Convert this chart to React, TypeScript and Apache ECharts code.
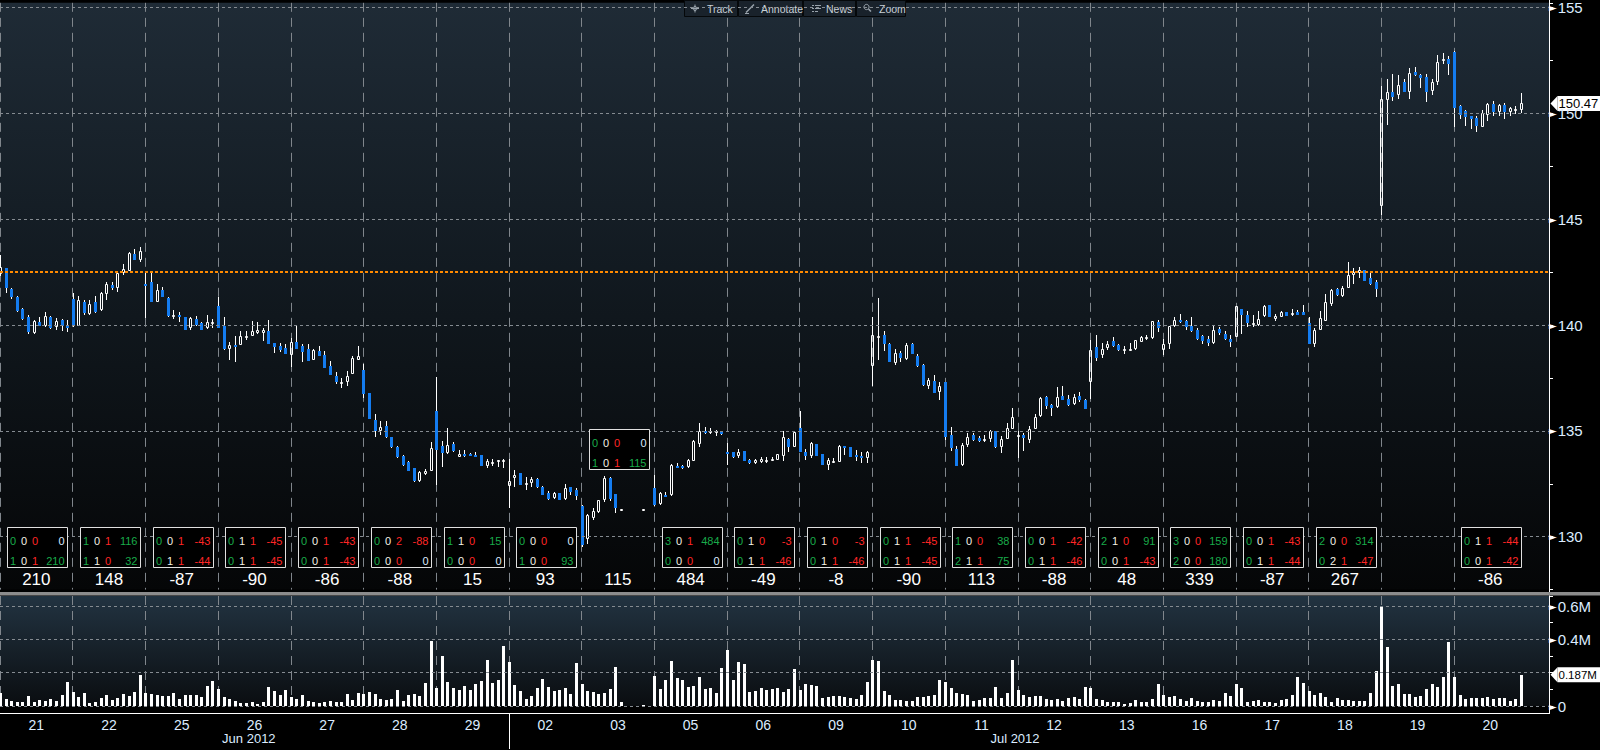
import React, { useEffect, useRef } from "react";
import * as echarts from "echarts";

// ---------------- data ----------------
const dayLabels = ["21", "22", "25", "26", "27", "28", "29", "02", "03", "05", "06", "09", "10", "11", "12", "13", "16", "17", "18", "19", "20"];
const monthLabels = ["Jun 2012", "Jul 2012"];
const monthStartDay = [0, 7];
const BARS_PER_DAY = 13;
const EMPTY_SLOTS_AT_END = 5;

type Bar = [number, number, number, number] | null; // open, high, low, close

const jun21: Bar[] = [
  [142.4, 143.3, 142.3, 142.75], [142.68, 142.7, 141.5, 141.74], [141.69, 141.74, 141.22, 141.32], [141.3, 141.35, 140.6, 140.64],
  [140.77, 140.8, 140.25, 140.3], [140.36, 140.49, 139.58, 139.66], [139.63, 140.22, 139.58, 140.17], [140.13, 140.36, 139.94, 139.94],
  [139.94, 140.6, 139.9, 140.41], [140.36, 140.41, 139.81, 139.86], [139.89, 140.33, 139.77, 140.2], [140.25, 140.3, 139.7, 139.94],
  [139.94, 140.25, 139.66, 139.86],
];
const jun22: Bar[] = [
  [141.24, 141.49, 139.9, 139.97], [139.97, 141.38, 139.94, 141.19], [141.11, 141.19, 140.49, 140.57], [140.52, 141.19, 140.46, 141.0],
  [141.11, 141.35, 140.57, 140.6], [140.7, 141.54, 140.68, 141.49], [141.46, 142.01, 141.18, 141.93], [141.88, 142.01, 141.65, 141.74],
  [141.74, 142.56, 141.58, 142.48], [142.45, 142.9, 142.37, 142.65], [142.57, 143.46, 142.57, 143.42], [143.37, 143.59, 143.09, 143.09],
  [143.09, 143.7, 142.96, 143.5],
];
const jun25: Bar[] = [
  [141.95, 142.45, 140.33, 141.93], [142.01, 142.45, 141.11, 141.11], [141.11, 141.96, 141.07, 141.66], [141.66, 141.8, 141.32, 141.32],
  [141.27, 141.3, 140.36, 140.41], [140.44, 140.72, 140.28, 140.46], [140.46, 140.6, 140.12, 140.36], [140.36, 140.36, 139.75, 139.78],
  [139.86, 140.38, 139.75, 140.33], [140.3, 140.41, 139.94, 139.99], [140.08, 140.12, 139.75, 139.77], [139.86, 140.46, 139.83, 140.12],
  [140.12, 140.3, 139.86, 140.13],
];
const jun26: Bar[] = [
  [140.88, 141.3, 139.86, 139.86], [139.94, 140.36, 138.83, 138.89], [138.87, 139.18, 138.34, 139.04], [139.05, 139.47, 138.25, 139.02],
  [139.04, 139.7, 139.04, 139.47], [139.48, 139.7, 139.28, 139.5], [139.47, 140.2, 139.47, 139.7], [139.63, 140.12, 139.58, 139.78],
  [139.63, 139.86, 139.23, 139.75], [139.73, 140.25, 139.1, 139.1], [139.15, 139.15, 138.68, 138.95], [139.03, 139.15, 138.73, 138.84],
  [138.92, 139.08, 138.64, 138.64],
];
const jun27: Bar[] = [
  [138.58, 139.39, 138.01, 139.19], [139.19, 140.02, 138.87, 138.87], [139.03, 139.12, 138.25, 138.73], [138.87, 139.08, 138.29, 138.29],
  [138.37, 138.89, 138.33, 138.81], [138.76, 139.0, 138.53, 138.53], [138.58, 138.76, 137.98, 137.98], [138.06, 138.29, 137.64, 137.64],
  [137.59, 137.78, 137.19, 137.32], [137.32, 137.51, 137.04, 137.33], [137.32, 137.82, 137.12, 137.59], [137.7, 138.53, 137.7, 138.45],
  [138.37, 139.0, 138.37, 138.53],
];
const jun28: Bar[] = [
  [137.86, 138.14, 136.57, 136.76], [136.79, 136.79, 135.58, 135.58], [135.52, 135.78, 134.69, 135.0], [135.0, 135.47, 134.8, 135.19],
  [135.24, 135.47, 134.64, 134.72], [134.72, 134.72, 134.19, 134.22], [134.25, 134.3, 133.7, 133.78], [133.83, 133.87, 133.36, 133.4],
  [133.51, 133.59, 133.09, 133.12], [133.23, 133.25, 132.6, 132.62], [132.62, 133.1, 132.6, 133.04], [132.96, 133.2, 132.93, 133.12],
  [133.09, 134.45, 133.09, 134.19],
];
const jun29: Bar[] = [
  [135.94, 137.54, 132.46, 134.11], [134.3, 134.53, 133.28, 133.94], [133.97, 135.13, 133.9, 134.34], [134.38, 134.45, 133.98, 134.03],
  [133.78, 134.09, 133.75, 133.9], [133.9, 134.09, 133.75, 133.8], [133.9, 133.94, 133.8, 133.83], [133.87, 134.02, 133.8, 133.8],
  [133.86, 133.87, 133.34, 133.36], [133.36, 133.67, 133.25, 133.56], [133.53, 133.67, 133.36, 133.55], [133.58, 133.62, 133.31, 133.6],
  [133.51, 133.65, 133.25, 133.62],
];
const jul02: Bar[] = [
  [132.39, 133.67, 131.35, 132.65], [132.78, 133.15, 132.37, 132.93], [133.0, 133.02, 132.43, 132.45], [132.46, 132.84, 132.21, 132.53],
  [132.53, 132.84, 132.34, 132.73], [132.73, 132.76, 132.3, 132.34], [132.37, 132.4, 131.96, 131.99], [132.06, 132.18, 131.74, 131.76],
  [131.82, 132.1, 131.77, 132.06], [132.06, 132.08, 131.72, 131.74], [131.76, 132.49, 131.71, 132.31], [132.34, 132.34, 131.99, 132.13],
  [132.21, 132.31, 131.74, 131.9],
];
const jul03: Bar[] = [
  [131.44, 131.5, 129.5, 129.6], [129.88, 131.08, 129.67, 131.01], [130.9, 131.35, 130.8, 131.19], [131.16, 131.75, 131.12, 131.71],
  [131.71, 132.85, 131.65, 132.78], [132.76, 132.8, 131.7, 131.76], [132.03, 132.03, 131.12, 131.35], [131.33, 131.33, 131.33, 131.33],
  null, null, null, [131.33, 131.33, 131.33, 131.33], null,
];
const jul05: Bar[] = [
  [132.29, 132.93, 131.44, 131.48], [131.54, 132.13, 131.52, 132.06], [131.99, 132.1, 131.92, 131.92], [131.96, 133.45, 131.94, 133.4],
  [133.34, 133.47, 133.26, 133.28], [133.34, 133.4, 133.22, 133.23], [133.28, 133.67, 133.25, 133.64], [133.59, 134.56, 133.56, 134.53],
  [134.38, 135.38, 134.22, 135.0], [135.0, 135.16, 134.85, 134.92], [134.96, 135.13, 134.85, 134.98], [134.97, 135.03, 134.74, 134.98],
  [134.94, 135.0, 134.81, 134.85],
];
const jul06: Bar[] = [
  [134.02, 134.44, 133.4, 133.94], [133.98, 134.0, 133.72, 133.75], [133.8, 134.14, 133.72, 133.98], [134.03, 134.06, 133.59, 133.59],
  [133.64, 133.65, 133.45, 133.47], [133.47, 133.65, 133.43, 133.62], [133.54, 133.75, 133.5, 133.67], [133.6, 133.78, 133.47, 133.62],
  [133.65, 133.75, 133.56, 133.67], [133.62, 133.92, 133.6, 133.9], [133.83, 135.0, 133.56, 134.69], [134.61, 134.65, 134.01, 134.22],
  [134.25, 135.0, 134.22, 134.96],
];
const jul09: Bar[] = [
  [135.13, 135.94, 133.98, 133.98], [134.02, 134.14, 133.64, 133.83], [133.83, 134.49, 133.7, 134.42], [134.38, 134.4, 133.8, 133.83],
  [133.9, 133.92, 133.38, 133.4], [133.39, 133.72, 133.17, 133.64], [133.55, 133.72, 133.47, 133.56], [133.55, 134.33, 133.53, 134.3],
  [134.3, 134.3, 133.87, 134.22], [134.25, 134.25, 133.75, 133.78], [133.84, 134.11, 133.56, 133.82], [133.83, 133.98, 133.47, 133.7],
  [133.7, 134.06, 133.47, 134.02],
];
const jul10: Bar[] = [
  [138.06, 140.36, 137.12, 139.55], [139.45, 141.27, 138.37, 139.48], [139.52, 139.73, 138.76, 139.11], [139.11, 139.14, 138.23, 138.26],
  [138.22, 138.89, 138.11, 138.69], [138.69, 138.77, 138.26, 138.42], [138.4, 139.16, 138.37, 139.05], [139.08, 139.16, 138.61, 138.64],
  [138.53, 138.61, 138.01, 138.06], [138.1, 138.14, 137.14, 137.17], [137.12, 137.48, 136.96, 137.39], [137.35, 137.64, 136.8, 136.8],
  [136.85, 137.32, 136.44, 137.1],
];
const jul11: Bar[] = [
  [137.31, 137.31, 134.58, 134.69], [134.82, 135.16, 134.06, 134.19], [134.14, 134.3, 133.36, 133.36], [133.39, 134.41, 133.36, 134.34],
  [134.34, 134.92, 134.25, 134.72], [134.81, 134.92, 134.53, 134.58], [134.64, 134.77, 134.45, 134.53], [134.6, 134.8, 134.45, 134.63],
  [134.61, 135.03, 134.45, 135.0], [135.0, 135.0, 134.2, 134.25], [134.25, 134.77, 133.94, 134.61], [134.63, 135.35, 134.61, 135.13],
  [135.11, 136.07, 135.08, 135.66],
];
const jul12: Bar[] = [
  [134.69, 135.0, 133.7, 134.81], [134.81, 134.88, 134.06, 134.64], [134.58, 135.24, 134.41, 135.08], [135.11, 135.79, 135.08, 135.66],
  [135.68, 136.6, 135.66, 136.57], [136.6, 136.65, 136.02, 136.17], [136.23, 136.26, 135.71, 136.1], [136.13, 137.07, 136.07, 136.6],
  [136.65, 137.12, 136.46, 136.46], [136.52, 136.7, 136.18, 136.23], [136.26, 136.76, 136.23, 136.6], [136.65, 136.85, 136.38, 136.46],
  [136.45, 136.5, 136.02, 136.05],
];
const jul13: Bar[] = [
  [137.32, 139.31, 136.49, 138.8], [138.95, 139.52, 138.32, 138.45], [138.56, 139.16, 138.42, 138.89], [138.92, 139.23, 138.84, 139.08],
  [139.23, 139.42, 138.95, 139.0], [139.05, 139.08, 138.79, 138.81], [138.86, 139.0, 138.61, 138.88], [138.83, 139.16, 138.77, 138.86],
  [138.87, 139.3, 138.84, 139.27], [139.2, 139.47, 139.19, 139.42], [139.43, 139.55, 139.31, 139.45], [139.39, 140.2, 139.36, 140.17],
  [140.14, 140.25, 139.66, 139.86],
];
const jul16: Bar[] = [
  [138.81, 139.36, 138.57, 139.08], [139.11, 139.94, 138.89, 139.94], [139.94, 140.36, 139.91, 140.22], [140.25, 140.53, 140.1, 140.13],
  [140.17, 140.25, 139.75, 139.89], [139.94, 140.36, 139.67, 139.7], [139.75, 139.86, 139.31, 139.36], [139.47, 139.55, 139.11, 139.23],
  [139.34, 139.47, 138.99, 139.15], [139.15, 139.94, 139.12, 139.78], [139.83, 139.89, 139.55, 139.62], [139.59, 139.7, 139.31, 139.36],
  [139.36, 139.52, 138.95, 139.2],
];
const jul17: Bar[] = [
  [139.45, 140.91, 139.42, 140.91], [140.77, 140.77, 139.58, 140.49], [140.46, 140.67, 139.89, 140.1], [140.02, 140.49, 139.89, 140.1],
  [139.99, 140.64, 139.94, 140.3], [140.41, 140.96, 140.38, 140.88], [140.93, 140.96, 140.38, 140.38], [140.28, 140.52, 140.17, 140.41],
  [140.38, 140.67, 140.36, 140.6], [140.6, 140.6, 140.41, 140.41], [140.53, 140.77, 140.41, 140.55], [140.6, 140.72, 140.46, 140.49],
  [140.6, 140.93, 140.46, 140.46],
];
const jul18: Bar[] = [
  [140.1, 140.36, 139.08, 139.08], [139.11, 139.86, 138.95, 139.75], [139.75, 140.64, 139.75, 140.33], [140.21, 141.48, 140.21, 141.07],
  [140.99, 141.71, 140.88, 141.66], [141.69, 141.77, 141.38, 141.43], [141.35, 141.82, 141.3, 141.77], [141.77, 142.99, 141.77, 142.37],
  [142.37, 142.71, 141.93, 142.52], [142.48, 142.76, 142.24, 142.6], [142.6, 142.6, 142.06, 142.09], [142.24, 142.44, 141.9, 141.95],
  [142.05, 142.13, 141.3, 141.71],
];
const jul19: Bar[] = [
  [145.61, 151.3, 145.19, 150.67], [150.64, 151.61, 149.45, 151.02], [151.02, 151.88, 150.56, 150.75], [150.88, 151.82, 150.67, 151.35],
  [151.49, 151.64, 150.99, 151.03], [151.02, 152.12, 150.67, 151.9], [151.96, 152.19, 151.77, 151.8], [151.8, 151.88, 151.22, 151.69],
  [151.72, 151.88, 150.52, 151.03], [151.07, 151.64, 150.86, 151.49], [151.46, 152.76, 151.33, 152.43], [152.45, 152.87, 152.32, 152.55],
  [152.58, 152.71, 151.8, 152.32],
];
const jul20: Bar[] = [
  [152.9, 152.95, 149.34, 150.23], [150.36, 150.39, 149.73, 149.92], [150.09, 150.17, 149.39, 149.81], [149.86, 149.86, 149.26, 149.73],
  [149.76, 149.86, 149.11, 149.42], [149.37, 150.17, 149.34, 150.0], [149.94, 150.49, 149.64, 150.44], [150.44, 150.57, 149.86, 150.05],
  [150.08, 150.44, 149.89, 150.41], [150.39, 150.47, 149.73, 150.05], [150.08, 150.28, 149.86, 150.25], [150.17, 150.33, 149.97, 150.2],
  [150.16, 150.94, 150.0, 150.47],
];
const dailyBars: Bar[][] = [jun21, jun22, jun25, jun26, jun27, jun28, jun29, jul02, jul03, jul05, jul06, jul09, jul10, jul11, jul12, jul13, jul16, jul17, jul18, jul19, jul20];

// volume per half-hour bar, millions of shares
const dailyVolumes: (number | null)[][] = [
  [0.08, 0.042, 0.03, 0.026, 0.024, 0.06, 0.026, 0.038, 0.03, 0.042, 0.03, 0.066, 0.144],
  [0.084, 0.054, 0.078, 0.02, 0.024, 0.048, 0.066, 0.036, 0.048, 0.074, 0.06, 0.084, 0.186],
  [0.08, 0.072, 0.066, 0.06, 0.06, 0.078, 0.042, 0.066, 0.064, 0.066, 0.054, 0.12, 0.15],
  [0.102, 0.054, 0.042, 0.03, 0.02, 0.02, 0.024, 0.012, 0.024, 0.114, 0.09, 0.066, 0.096],
  [0.056, 0.042, 0.066, 0.03, 0.024, 0.018, 0.024, 0.03, 0.024, 0.024, 0.072, 0.036, 0.078],
  [0.072, 0.084, 0.072, 0.042, 0.036, 0.042, 0.096, 0.03, 0.066, 0.072, 0.06, 0.138, 0.39],
  [0.108, 0.3, 0.144, 0.108, 0.096, 0.12, 0.096, 0.132, 0.15, 0.276, 0.138, 0.156, 0.36],
  [0.264, 0.126, 0.09, 0.042, 0.06, 0.108, 0.162, 0.114, 0.09, 0.096, 0.108, 0.072, 0.258],
  [0.132, 0.09, 0.084, 0.072, 0.078, 0.102, 0.234, 0.024, null, null, null, 0.002, null],
  [0.18, 0.102, 0.156, 0.27, 0.168, 0.156, 0.114, 0.12, 0.174, 0.102, 0.108, 0.078, 0.228],
  [0.336, 0.156, 0.264, 0.252, 0.084, 0.09, 0.108, 0.098, 0.102, 0.108, 0.084, 0.1, 0.22],
  [0.096, 0.132, 0.126, 0.12, 0.048, 0.054, 0.06, 0.06, 0.054, 0.048, 0.042, 0.066, 0.144],
  [0.276, 0.27, 0.09, 0.066, 0.036, 0.036, 0.03, 0.03, 0.054, 0.054, 0.06, 0.066, 0.156],
  [0.144, 0.108, 0.078, 0.072, 0.066, 0.03, 0.036, 0.048, 0.048, 0.114, 0.048, 0.078, 0.276],
  [0.096, 0.066, 0.054, 0.06, 0.06, 0.042, 0.036, 0.042, 0.03, 0.048, 0.054, 0.042, 0.114],
  [0.108, 0.042, 0.034, 0.026, 0.024, 0.024, 0.012, 0.016, 0.036, 0.024, 0.024, 0.042, 0.132],
  [0.066, 0.054, 0.06, 0.04, 0.032, 0.05, 0.03, 0.026, 0.026, 0.034, 0.03, 0.078, 0.06],
  [0.132, 0.108, 0.024, 0.03, 0.036, 0.024, 0.024, 0.018, 0.036, 0.042, 0.066, 0.174, 0.138],
  [0.09, 0.066, 0.078, 0.054, 0.024, 0.048, 0.036, 0.036, 0.03, 0.03, 0.03, 0.078, 0.21],
  [0.6, 0.356, 0.12, 0.132, 0.07, 0.07, 0.056, 0.06, 0.1, 0.132, 0.116, 0.176, 0.386],
  [0.176, 0.066, 0.04, 0.05, 0.05, 0.05, 0.056, 0.04, 0.05, 0.05, 0.03, 0.042, 0.187],
];

// trade-signal boxes per day: [buy, hold, sell, points] for the upper and lower row
type Row = [number, number, number, number];
const boxUpperRows: (Row | null)[] = [
  [0, 0, 0, 0], [1, 0, 1, 116], [0, 0, 1, -43], [0, 1, 1, -45], [0, 0, 1, -43], [0, 0, 2, -88], [1, 1, 0, 15],
  [0, 0, 0, 0], [0, 0, 0, 0], [3, 0, 1, 484], [0, 1, 0, -3], [0, 1, 0, -3], [0, 1, 1, -45], [1, 0, 0, 38],
  [0, 0, 1, -42], [2, 1, 0, 91], [3, 0, 0, 159], [0, 0, 1, -43], [2, 0, 0, 314], null, [0, 1, 1, -44],
];
const boxLowerRows: (Row | null)[] = [
  [1, 0, 1, 210], [1, 1, 0, 32], [0, 1, 1, -44], [0, 1, 1, -45], [0, 0, 1, -43], [0, 0, 0, 0], [0, 0, 0, 0],
  [1, 0, 0, 93], [1, 0, 1, 115], [0, 0, 0, 0], [0, 1, 1, -46], [0, 1, 1, -46], [0, 1, 1, -45], [2, 1, 1, 75],
  [0, 1, 1, -46], [0, 0, 1, -43], [2, 0, 0, 180], [0, 1, 1, -44], [0, 2, 1, -47], null, [0, 0, 1, -42],
];
const dayTotals: (number | null)[] = [210, 148, -87, -90, -86, -88, 15, 93, 115, 484, -49, -8, -90, 113, -88, 48, 339, -87, 267, null, -86];
const raisedBoxDays = ["03"];

const previousClose = 142.53;
const priceGridLevels = [130, 135, 140, 145, 150, 155];
const volumeGridLevels = [0, 0.2, 0.4, 0.6];
const priceAxisMin = 127.5;
const priceAxisMax = 155.22;
const volumeAxisMax = 0.66;

// ---------------- style / layout ----------------
const PLOT_W = 1549;
const PRICE_H = 589.6;
const VOL_TOP = 596;
const VOL_H = 110;
const BLUE = "#147cf0";
const LABEL = "#dcecff";
const GREEN = "#19ab4a";
const RED = "#ff2626";
const SANS = "'Liberation Sans', Arial, 'DejaVu Sans', sans-serif";
const NARROW = "'Liberation Sans Narrow', 'Arial Narrow', 'Liberation Sans', Arial, sans-serif";

const near = (a: number, b: number) => Math.abs(a - b) < 1e-6;
const isMultiple = (v: number, m: number) => near(v / m, Math.round(v / m));

function txt(text: string, x: number, y: number, fill: string, size: number, family: string, align = "center", vAlign = "middle") {
  return {
    type: "text",
    style: { text, x, y, fill, fontSize: size, fontFamily: family, align, verticalAlign: vAlign, textAlign: align, textVerticalAlign: vAlign },
  };
}

function buildOption() {
  const slotCount = dailyBars.length * BARS_PER_DAY + EMPTY_SLOTS_AT_END;
  const slots = Array.from({ length: slotCount }, (_, i) => String(i));
  const lastSlot = dailyBars.length * BARS_PER_DAY;

  const candleData: number[][] = [];
  const volumeData: number[][] = [];
  const closeLine: (number | null)[] = [];
  dailyBars.forEach((day, d) =>
    day.forEach((b, k) => {
      const idx = d * BARS_PER_DAY + k;
      if (b) {
        candleData.push([idx, b[0], b[1], b[2], b[3]]);
        closeLine.push(b[3]);
      } else closeLine.push(null);
      const v = dailyVolumes[d][k];
      if (v != null) volumeData.push([idx, v]);
    })
  );

  const boxData: number[][] = [];
  dayLabels.forEach((_, d) => {
    if (boxUpperRows[d] && boxLowerRows[d]) boxData.push([d * BARS_PER_DAY, d]);
  });

  const dashedDayLines = {
    show: true,
    interval: (i: number) => i % BARS_PER_DAY === 0 && i < lastSlot,
    lineStyle: { color: "#80868c", width: 1, type: [9, 6] },
  };

  const baseX = {
    type: "category",
    data: slots,
    boundaryGap: false,
    axisLine: { show: false },
    axisTick: { show: false },
    axisLabel: { show: false },
    splitLine: dashedDayLines,
  };

  const axisLabelRich = {
    a: { color: "#ffffff", fontSize: 10, fontFamily: "'DejaVu Sans', sans-serif", padding: [0, 1, 0, 0] },
    b: { color: LABEL, fontSize: 15, fontFamily: NARROW },
  };

  const digitColor = (v: number) => (v > 0 ? GREEN : v < 0 ? RED : LABEL);
  const monthMidSlot = (m: number) => {
    const s = monthStartDay[m];
    const e = m + 1 < monthStartDay.length ? monthStartDay[m + 1] : dayLabels.length;
    return Math.floor(((s + e) * BARS_PER_DAY) / 2) - 1;
  };

  return {
    animation: false,
    backgroundColor: "#000000",
    grid: [
      {
        left: 0, top: 0, width: PLOT_W, height: PRICE_H, show: true, borderWidth: 0,
        backgroundColor: new echarts.graphic.LinearGradient(0, 0, 0, 1, [
          { offset: 0, color: "#1f2b36" },
          { offset: 0.45, color: "#121a21" },
          { offset: 1, color: "#050607" },
        ]),
      },
      {
        left: 0, top: VOL_TOP, width: PLOT_W, height: VOL_H, show: true, borderWidth: 0,
        backgroundColor: new echarts.graphic.LinearGradient(0, 0, 0, 1, [
          { offset: 0, color: "#223341" },
          { offset: 1, color: "#0a0d10" },
        ]),
      },
    ],
    xAxis: [
      { ...baseX, gridIndex: 0 },
      {
        ...baseX,
        gridIndex: 1,
        position: "bottom",
        offset: 7,
        axisLine: { show: true, onZero: false, lineStyle: { color: "#ffffff", width: 1 } },
        axisTick: { show: true, interval: (i: number) => i === monthStartDay[1] * BARS_PER_DAY, length: 36, lineStyle: { color: "#ffffff", width: 1 } },
        axisLabel: {
          show: true,
          interval: (i: number) => i % BARS_PER_DAY === 6 && i < lastSlot,
          formatter: (_: string, i: number) => dayLabels[Math.floor(i / BARS_PER_DAY)],
          color: LABEL,
          fontSize: 14,
          fontFamily: NARROW,
          margin: 5,
          padding: [0, 0, 0, 5.6],
        },
      },
      {
        type: "category",
        data: slots,
        boundaryGap: false,
        gridIndex: 1,
        position: "bottom",
        offset: 7,
        axisLine: { show: false },
        axisTick: { show: false },
        splitLine: { show: false },
        axisLabel: {
          show: true,
          interval: (i: number) => monthStartDay.some((_, m) => i === monthMidSlot(m)),
          formatter: (_: string, i: number) => {
            const m = monthStartDay.findIndex((__, mi) => i === monthMidSlot(mi));
            return m >= 0 ? monthLabels[m] : "";
          },
          color: LABEL,
          fontSize: 13,
          fontFamily: SANS,
          margin: 19,
          padding: [0, 0, 0, 5.6],
        },
      },
    ],
    yAxis: [
      {
        type: "value",
        gridIndex: 0,
        position: "right",
        min: priceAxisMin,
        max: priceAxisMax,
        interval: 2.5,
        axisLine: { show: false },
        axisTick: { show: true, length: 4, lineStyle: { color: "#ffffff" } },
        splitLine: { show: false },
        axisLabel: {
          margin: 0,
          formatter: (v: number) => (isMultiple(v, 5) && v <= 155 ? `{a|►}{b|${v}}` : ""),
          rich: axisLabelRich,
        },
      },
      {
        type: "value",
        gridIndex: 1,
        position: "right",
        min: 0,
        max: volumeAxisMax,
        interval: 0.1,
        axisLine: { show: false },
        axisTick: { show: true, length: 4, lineStyle: { color: "#ffffff" } },
        splitLine: { show: false },
        axisLabel: {
          margin: 0,
          formatter: (v: number) => {
            if (near(v, 0)) return "{a|►}{b|0}";
            if (near(v, 0.4) || near(v, 0.6)) return `{a|►}{b|${Math.round(v * 10) / 10}M}`;
            return "";
          },
          rich: axisLabelRich,
        },
      },
    ],
    series: [
      {
        type: "line",
        xAxisIndex: 0,
        yAxisIndex: 0,
        data: closeLine,
        showSymbol: false,
        silent: true,
        z: 1,
        lineStyle: { opacity: 0 },
        markLine: {
          silent: true,
          symbol: ["none", "none"],
          label: { show: false },
          lineStyle: { color: "#858b91", width: 1, type: [3, 3] },
          data: [
            ...priceGridLevels.map((v) => ({ yAxis: v })),
            { yAxis: previousClose, lineStyle: { color: "#ff8a00", width: 2, type: [3, 2] } },
          ],
        },
      },
      {
        type: "line",
        xAxisIndex: 1,
        yAxisIndex: 1,
        data: closeLine.map(() => null),
        showSymbol: false,
        silent: true,
        z: 1,
        lineStyle: { opacity: 0 },
        markLine: {
          silent: true,
          symbol: ["none", "none"],
          label: { show: false },
          lineStyle: { color: "#858b91", width: 1, type: [3, 3] },
          data: volumeGridLevels.map((v) => ({ yAxis: v })),
        },
      },
      {
        type: "custom",
        name: "price",
        xAxisIndex: 0,
        yAxisIndex: 0,
        z: 3,
        clip: false,
        encode: { x: 0, y: [1, 2, 3, 4] },
        data: candleData,
        renderItem: (_params: any, api: any) => {
          const i = api.value(0);
          const o = api.value(1), h = api.value(2), l = api.value(3), c = api.value(4);
          const x = Math.round(api.coord([i, o])[0]) + 0.5;
          const yO = api.coord([i, o])[1], yC = api.coord([i, c])[1];
          const yH = Math.round(api.coord([i, h])[1]), yL = Math.round(api.coord([i, l])[1]);
          const up = c >= o;
          const top = Math.round(Math.min(yO, yC));
          let bot = Math.round(Math.max(yO, yC));
          if (bot - top < 2) bot = top + 2;
          const children: any[] = [];
          if (yH < top) children.push({ type: "line", shape: { x1: x, y1: yH, x2: x, y2: top }, style: { stroke: "#ffffff", lineWidth: 1 } });
          if (yL > bot) children.push({ type: "line", shape: { x1: x, y1: bot, x2: x, y2: yL }, style: { stroke: "#ffffff", lineWidth: 1 } });
          if (up) children.push({ type: "rect", shape: { x: x - 1, y: top + 0.5, width: 2, height: bot - top - 1 }, style: { fill: "none", stroke: "#ffffff", lineWidth: 1 } });
          else children.push({ type: "rect", shape: { x: x - 1.5, y: top, width: 3, height: bot - top }, style: { fill: BLUE } });
          return { type: "group", children };
        },
      },
      {
        type: "custom",
        name: "volume",
        xAxisIndex: 1,
        yAxisIndex: 1,
        z: 3,
        clip: false,
        encode: { x: 0, y: 1 },
        data: volumeData,
        renderItem: (_params: any, api: any) => {
          const i = api.value(0), v = api.value(1);
          const x = Math.round(api.coord([i, 0])[0]);
          const y0 = Math.round(api.coord([i, 0])[1]);
          const y1 = Math.round(api.coord([i, v])[1]);
          return { type: "rect", shape: { x: x - 1, y: Math.min(y1, y0 - 1), width: 3, height: Math.max(y0 - y1, 1) }, style: { fill: "#ffffff" } };
        },
      },
      {
        type: "custom",
        name: "signals",
        xAxisIndex: 0,
        yAxisIndex: 0,
        z: 5,
        clip: false,
        data: boxData,
        renderItem: (params: any, api: any) => {
          const start = api.value(0);
          const d = api.value(1);
          const cs = params.coordSys;
          const bottom = cs.y + cs.height;
          const xa = api.coord([start, priceAxisMin])[0];
          const xb = api.coord([start + BARS_PER_DAY, priceAxisMin])[0];
          const cx = (xa + xb) / 2 + 1;
          const left = Math.round(cx - 30) + 0.5;
          const lift = raisedBoxDays.includes(dayLabels[d]) ? 98 : 0;
          const top = Math.round(bottom - 63 - lift) + 0.5;
          const children: any[] = [
            { type: "rect", shape: { x: left, y: top, width: 60, height: 40 }, style: { fill: "#000000", stroke: "#e0e0e0", lineWidth: 1 } },
          ];
          const rows = [boxUpperRows[d] as Row, boxLowerRows[d] as Row];
          rows.forEach((r, ri) => {
            const ty = top + 13 + ri * 20;
            children.push(txt(String(r[0]), left + 5.5, ty, GREEN, 11, SANS));
            children.push(txt(String(r[1]), left + 16.5, ty, "#f4f1e4", 11, SANS));
            children.push(txt(String(r[2]), left + 27.5, ty, RED, 11, SANS));
            children.push(txt(String(r[3]), left + 57, ty, digitColor(r[3]), 11, SANS, "right"));
          });
          const total = dayTotals[d];
          if (total != null) children.push(txt(String(total), cx - 1, bottom - 10.5, "#ffffff", 17, NARROW));
          return { type: "group", children };
        },
      },
    ],
  };
}

function toolbar() {
  const buttons = [
    { label: "Track", x0: 684, x1: 738 },
    { label: "Annotate", x0: 738, x1: 803 },
    { label: "News", x0: 803, x1: 856 },
    { label: "Zoom", x0: 856, x1: 906 },
  ];
  const gray = "#9aa4ad";
  const children: any[] = [];
  buttons.forEach((b) => {
    children.push({ type: "rect", shape: { x: b.x0 + 0.5, y: 0.5, width: b.x1 - b.x0 - 1, height: 16 }, style: { fill: "#19222b", stroke: "#05080a", lineWidth: 1 } });
    children.push(txt(b.label, b.x0 + 23, 8.5, "#c9d1d8", 10.5, SANS, "left"));
  });
  children.push({ type: "circle", shape: { cx: 695, cy: 8.5, r: 2 }, style: { fill: "none", stroke: gray, lineWidth: 1 } });
  children.push({ type: "line", shape: { x1: 691, y1: 8.5, x2: 699, y2: 8.5 }, style: { stroke: gray, lineWidth: 1 } });
  children.push({ type: "line", shape: { x1: 695, y1: 4.5, x2: 695, y2: 12.5 }, style: { stroke: gray, lineWidth: 1 } });
  children.push({ type: "line", shape: { x1: 746, y1: 12.5, x2: 754, y2: 4.5 }, style: { stroke: gray, lineWidth: 1.5 } });
  children.push({ type: "line", shape: { x1: 745, y1: 13.5, x2: 749, y2: 13.5 }, style: { stroke: gray, lineWidth: 1 } });
  [5.5, 8.5, 11.5].forEach((y, k) => {
    children.push({ type: "line", shape: { x1: 812, y1: y, x2: 814, y2: y }, style: { stroke: gray, lineWidth: 1 } });
    children.push({ type: "line", shape: { x1: 815, y1: y, x2: k === 2 ? 818 : 821, y2: y }, style: { stroke: gray, lineWidth: 1 } });
  });
  children.push({ type: "circle", shape: { cx: 866.5, cy: 7, r: 2.6 }, style: { fill: "none", stroke: gray, lineWidth: 1 } });
  children.push({ type: "line", shape: { x1: 868.5, y1: 9, x2: 871, y2: 11.5 }, style: { stroke: gray, lineWidth: 1.5 } });
  return { type: "group", children };
}

function valueTag(y: number, text: string, size: number) {
  const x0 = PLOT_W + 1.5;
  const bx = PLOT_W + 8.5;
  return {
    type: "group",
    z: 20,
    children: [
      { type: "polygon", shape: { points: [[x0, y], [bx, y - 7.5], [bx, y + 7.5]] }, style: { fill: "#ffffff" } },
      { type: "rect", shape: { x: bx, y: y - 7.5, width: 1600 - bx, height: 15 }, style: { fill: "#ffffff" } },
      txt(text, bx + 1, y + 0.5, "#000000", size, SANS, "left"),
    ],
  };
}

export default function App() {
  const ref = useRef<HTMLDivElement>(null);
  useEffect(() => {
    document.body.style.margin = "0";
    document.body.style.background = "#000";
    if (!ref.current) return;
    const chart = echarts.init(ref.current, undefined, { renderer: "svg" });
    chart.setOption(buildOption() as any);

    const lastBars = dailyBars[dailyBars.length - 1];
    const lastBar = lastBars[lastBars.length - 1] as [number, number, number, number];
    const lastVols = dailyVolumes[dailyVolumes.length - 1];
    const lastVol = lastVols[lastVols.length - 1] as number;
    const yPrice = chart.convertToPixel({ yAxisIndex: 0 } as any, lastBar[3]) as unknown as number;
    const yVol = chart.convertToPixel({ yAxisIndex: 1 } as any, lastVol) as unknown as number;

    chart.setOption({
      graphic: [
        { type: "rect", z: 10, shape: { x: 0, y: 592, width: 1600, height: 3.5 }, style: { fill: "#8c8c8c" } },
        { type: "line", z: 10, shape: { x1: PLOT_W + 0.5, y1: 0, x2: PLOT_W + 0.5, y2: 592 }, style: { stroke: "#ffffff", lineWidth: 1 } },
        { type: "line", z: 10, shape: { x1: PLOT_W + 0.5, y1: 595.5, x2: PLOT_W + 0.5, y2: 714 }, style: { stroke: "#ffffff", lineWidth: 1 } },
        { ...toolbar(), z: 20 },
        valueTag(yPrice, lastBar[3].toFixed(2), 13),
        valueTag(yVol, `${lastVol}M`, 11.5),
      ],
    });
    return () => chart.dispose();
  }, []);
  return <div ref={ref} style={{ width: 1600, height: 750, position: "absolute", left: 0, top: 0 }} />;
}
